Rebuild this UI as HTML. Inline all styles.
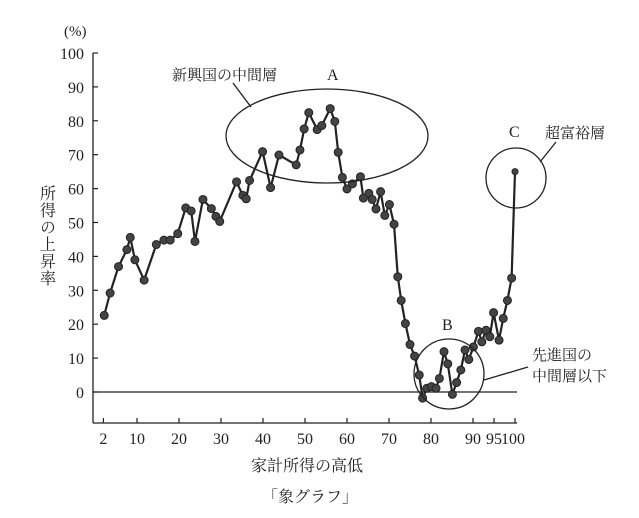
<!DOCTYPE html>
<html><head><meta charset="utf-8"><style>
html,body{margin:0;padding:0;background:#fff}
svg{display:block}
text{font-family:"Liberation Serif","Noto Serif CJK SC","Noto Sans CJK JP",serif;fill:#222}
</style></head><body>
<svg id="chart" width="639" height="518" viewBox="0 0 639 518">
<g id="axes"></g>
<g id="series"></g>
<g fill="none" stroke="#222" stroke-width="1.3">
<ellipse cx="327" cy="136" rx="101" ry="47"/>
<circle cx="449" cy="374" r="35"/>
<circle cx="516" cy="178" r="30"/>
<line x1="233" y1="83" x2="251" y2="107"/>
<line x1="484" y1="380" x2="528" y2="367"/>
<line x1="540" y1="162" x2="556" y2="142"/>
</g>
<text x="172" y="80" font-size="15">新興国の中間層</text>
<text x="327" y="80" font-size="16">A</text>
<text x="442" y="330" font-size="16">B</text>
<text x="509" y="137" font-size="16">C</text>
<text x="545" y="138" font-size="15">超富裕層</text>
<text x="532" y="360" font-size="15">先進国の</text>
<text x="532" y="381" font-size="15">中間層以下</text>
<text x="64" y="36" font-size="15">(%)</text>
<text x="46" y="185" font-size="16" style="writing-mode:vertical-rl;letter-spacing:1px">所得の上昇率</text>
<text x="307" y="471" font-size="16" text-anchor="middle">家計所得の高低</text>
<text x="310" y="502" font-size="16" text-anchor="middle">「象グラフ」</text>
</svg>
<script>
const xs = [2.2,3.6,5.6,7.6,8.4,9.5,11.7,14.6,16.4,17.9,19.7,21.6,22.9,23.8,25.7,27.7,28.8,29.7,33.7,35.2,36,36.8,39.9,41.8,43.8,47.9,48.8,49.8,50.9,52.9,54,56,57.1,57.9,58.9,60,61.3,63.2,63.9,65.2,66,66.9,68,69,70.1,71.2,72.1,72.9,73.9,75,76.1,77.2,78,79,80.1,81.2,82,83.1,84,85.1,86.1,87.1,88.1,89,90.1,91.3,92.1,93.1,94,94.9,96.2,97.2,98.2,99.2,100];
const ys = [22.6,29.2,37,42,45.6,39,33,43.5,44.8,44.8,46.7,54.3,53.4,44.4,56.8,54.1,51.8,50.3,62,58,57,62.4,70.9,60.3,69.9,67,71.4,77.6,82.4,77.4,78.6,83.6,79.8,70.7,63.3,59.9,61.4,63.5,57.2,58.6,56.8,54,59.1,52.1,55.3,49.5,34,27,20.2,14,10.6,5,-1.8,1.1,1.6,1.1,4,11.9,8.3,-0.7,2.8,6.5,12.4,9.6,13.3,17.9,14.8,18.2,16.3,23.4,15.3,21.7,27,33.6,65];
const yTicks = [0,10,20,30,40,50,60,70,80,90,100];
const xTicks = [2,10,20,30,40,50,60,70,80,90,95,100];
const NS="http://www.w3.org/2000/svg";
function X(p){return 95+4.2*p;}
function Y(v){return 392-3.39*v;}
function mk(t,a,parent){const e=document.createElementNS(NS,t);for(const k in a)e.setAttribute(k,a[k]);parent.appendChild(e);return e;}
const ax=document.getElementById('axes'), sr=document.getElementById('series');
let e=mk('line',{x1:93,y1:Y(100),x2:93,y2:423,stroke:'#222','stroke-width':1.3},ax);


e=mk('line',{x1:93,y1:423,x2:517,y2:423,stroke:'#222','stroke-width':1.3},ax);


e=mk('line',{x1:93,y1:Y(0),x2:517,y2:Y(0),stroke:'#222','stroke-width':1.3},ax);


yTicks.forEach(v=>{
 let t=mk('line',{x1:93,y1:Y(v),x2:98,y2:Y(v),stroke:'#222','stroke-width':1.2},ax);
 
 
 let l=mk('text',{x:84,y:Y(v)+6,'font-size':16,'text-anchor':'end'},ax);
 l.textContent=v;
 
 
});
xTicks.forEach(v=>{
 let t=mk('line',{x1:X(v),y1:423,x2:X(v),y2:418,stroke:'#222','stroke-width':1.2},ax);
 
 
 let l=mk('text',{x:X(v)+(v===100?-2:0),y:444,'font-size':16,'text-anchor':'middle'},ax);
 l.textContent=v;
 
 
});
let d=xs.map((p,i)=>(i?'L':'M')+X(p).toFixed(1)+' '+Y(ys[i]).toFixed(1)).join(' ');
e=mk('path',{d:d,fill:'none',stroke:'#222','stroke-width':2.2,'stroke-linejoin':'round'},sr);


xs.forEach((p,i)=>{
 let c=mk('circle',{cx:X(p),cy:Y(ys[i]),r:i===xs.length-1?3:4,fill:'#444',stroke:'#222','stroke-width':1},sr);
 
 
});
</script>
</body></html>
